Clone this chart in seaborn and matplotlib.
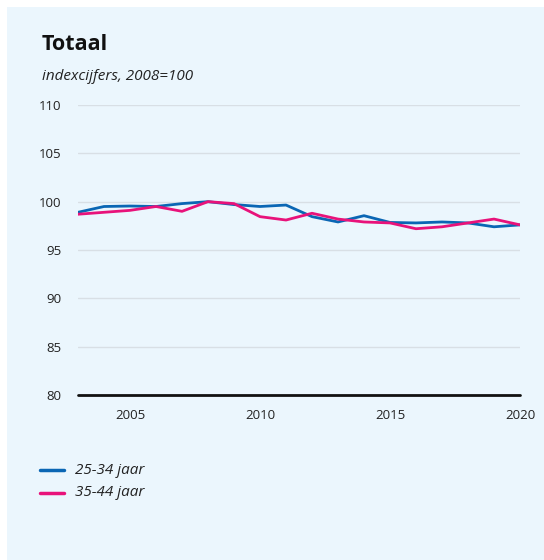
import numpy as np
import pandas as pd
import matplotlib
matplotlib.use("Agg")
import matplotlib.pyplot as plt
import seaborn as sns
from matplotlib.patches import Rectangle

years = list(range(2003, 2021))
leeftijd_25_34 = [98.9, 99.5, 99.55, 99.5, 99.8, 100.0, 99.7, 99.5, 99.65, 98.45,
                  97.9, 98.55, 97.85, 97.8, 97.9, 97.8, 97.4, 97.6]
leeftijd_35_44 = [98.7, 98.9, 99.1, 99.5, 99.0, 100.0, 99.8, 98.45, 98.1, 98.8,
                  98.2, 97.9, 97.8, 97.2, 97.4, 97.8, 98.2, 97.6]
series_labels = ["25-34 jaar", "35-44 jaar"]
y_ticks = [80, 85, 90, 95, 100, 105, 110]
x_ticks = [2005, 2010, 2015, 2020]

df = pd.DataFrame({
    "jaar": years * 2,
    "index": leeftijd_25_34 + leeftijd_35_44,
    "groep": [series_labels[0]] * len(years) + [series_labels[1]] * len(years),
})

sns.set_theme(style="white")
plt.rcParams["font.family"] = ["Open Sans", "DejaVu Sans"]

bg = "#ebf6fd"
fig = plt.figure(figsize=(5.44, 5.60), dpi=100)
fig.patch.set_facecolor("white")
fig.patches.append(Rectangle((7 / 544, 0), 1, 1 - 7 / 560, transform=fig.transFigure,
                             facecolor=bg, edgecolor="none", zorder=-10))

ax = fig.add_axes([78 / 544, 1 - 395 / 560, (520 - 78) / 544, (395 - 105) / 560])
ax.set_facecolor(bg)

palette = {series_labels[0]: "#0a66b4", series_labels[1]: "#e8127a"}
sns.lineplot(data=df, x="jaar", y="index", hue="groep", palette=palette,
             linewidth=2, ax=ax, legend=False, zorder=3)

ax.set_xlim(2003, 2020)
ax.set_ylim(80, 110)
ax.set_yticks(y_ticks)
ax.set_xticks(x_ticks)
ax.set_xlabel("")
ax.set_ylabel("")
for s in ax.spines.values():
    s.set_visible(False)
for y in y_ticks[1:]:
    ax.axhline(y, color="#d8dfe5", linewidth=1, zorder=1)
ax.axhline(80, color="#111111", linewidth=2, zorder=4, clip_on=False)

ax.tick_params(axis="y", length=0, pad=12, labelsize=9.5, labelcolor="#222222")
ax.tick_params(axis="x", length=6, width=1, color="#c6ccd2", pad=4,
               labelsize=9.5, labelcolor="#222222", direction="out")

fig.text(42 / 544, 1 - 45 / 560, "Totaal", fontsize=15.5, fontweight="bold",
         color="#111111", va="center", ha="left")
fig.text(42 / 544, 1 - 77 / 560, "indexcijfers, 2008=100", fontsize=11,
         style="italic", color="#222222", va="center", ha="left")

# legend drawn as short line samples with labels
for i, (lab, yy) in enumerate(zip(series_labels, [470, 493])):
    yf = 1 - yy / 560
    fig.add_artist(plt.Line2D([40 / 544, 64 / 544], [yf, yf], color=palette[lab],
                              linewidth=2.5, transform=fig.transFigure))
    fig.text(75 / 544, yf, lab, fontsize=11, style="italic", color="#222222",
             va="center", ha="left")

fig.savefig("out.png", dpi=100, facecolor=fig.get_facecolor())
